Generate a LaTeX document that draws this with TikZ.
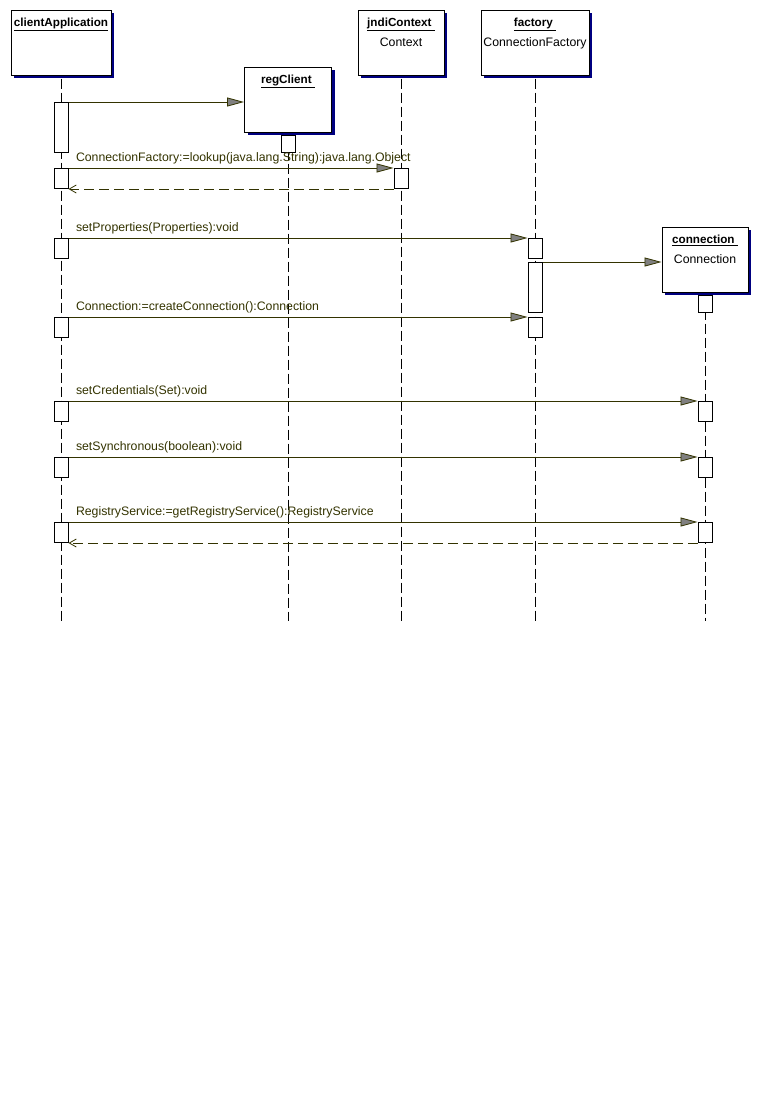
\documentclass[tikz,border=0pt]{standalone}
\usepackage{fontspec}
\setmainfont{Liberation Sans}
\usepackage{tikz}
\usetikzlibrary{positioning, arrows.meta, calc, shadows}
\usepackage{xcolor}
\definecolor{umlolive}{HTML}{333300}
\definecolor{umlnavy}{HTML}{000080}
\definecolor{umlgray}{HTML}{808080}

\begin{document}
\begin{tikzpicture}[x=1pt, y=-1pt, line width=1pt, font=\fontsize{12.3}{14}\selectfont,
    obj/.style={draw=black, fill=white, minimum height=65pt, inner sep=0pt,
      drop shadow={shadow xshift=3pt, shadow yshift=-3pt, fill=umlnavy, opacity=1}},
    act/.style={draw=black, fill=white, minimum width=14pt, inner sep=0pt, anchor=north},
    objname/.style={anchor=base, inner sep=0pt, font=\fontsize{11.7}{13}\selectfont\bfseries},
    clsname/.style={anchor=base, inner sep=0pt},
    life/.style={draw=black, dash pattern=on 10pt off 4pt},
    call/.style={draw=umlolive, -{Triangle[length=17pt, width=9pt, fill=umlgray, line width=0.8pt]}},
    reply/.style={draw=umlolive, dash pattern=on 10pt off 5pt, -{Straight Barb[length=7pt, width=8pt, line width=0.8pt]}},
    msg/.style={text=umlolive, anchor=base west, inner sep=0pt}]
  \useasboundingbox (0,0) rectangle (760,1103);

  % objects
  \node[obj, minimum width=100pt] (clientApp) at (61,42.5) {};
  \node[objname] (clientAppName) at ([yshift=-17pt]clientApp.north) {\underline{clientApplication}};
  \node[obj, minimum width=87pt] (regClient) at (288,99.5) {};
  \node[objname] (regClientName) at ([yshift=-17pt]regClient.north) {\underline{regClient }};
  \node[obj, minimum width=86pt] (jndiContext) at (401,42.5) {};
  \node[objname] (jndiContextName) at ([yshift=-17pt]jndiContext.north) {\underline{jndiContext }};
  \node[clsname] (jndiContextCls) at ([yshift=-36.5pt]jndiContext.north) {Context};
  \node[obj, minimum width=108pt] (factory) at (535,42.5) {};
  \node[objname] (factoryName) at ([yshift=-17pt]factory.north) {\underline{factory }};
  \node[clsname] (factoryCls) at ([yshift=-36.5pt]factory.north) {ConnectionFactory};
  \node[obj, minimum width=86pt] (connection) at (705,259.5) {};
  \node[objname] (connectionName) at ([yshift=-17pt]connection.north) {\underline{connection }};
  \node[clsname] (connectionCls) at ([yshift=-36.5pt]connection.north) {Connection};

  % lifelines
  \coordinate (bottom) at (0,621);
  \foreach \o in {clientApp, regClient, jndiContext, factory, connection}
    \draw[life] ([yshift=-3pt]\o.south) -- (\o.south |- bottom);

  % activations
  \node[act, minimum height=50pt] (ca1) at (61,102) {};
  \node[act, minimum height=20pt] (ca2) at (61,168) {};
  \node[act, minimum height=20pt] (ca3) at (61,238) {};
  \node[act, minimum height=20pt] (ca4) at (61,317) {};
  \node[act, minimum height=20pt] (ca5) at (61,401) {};
  \node[act, minimum height=20pt] (ca6) at (61,457) {};
  \node[act, minimum height=20pt] (ca7) at (61,522) {};
  \node[act, minimum height=17pt] (rc1) at (288,135) {};
  \node[act, minimum height=20pt] (jc1) at (401,168) {};
  \node[act, minimum height=20pt] (fa1) at (535,238) {};
  \node[act, minimum height=50pt] (fa2) at (535,262) {};
  \node[act, minimum height=20pt] (fa3) at (535,317) {};
  \node[act, minimum height=17pt] (cn1) at (705,295) {};
  \node[act, minimum height=20pt] (cn2) at (705,401) {};
  \node[act, minimum height=20pt] (cn3) at (705,457) {};
  \node[act, minimum height=20pt] (cn4) at (705,522) {};

  % messages
  \draw[call] (ca1.north east) -- (ca1.north east -| regClient.west);

  \draw[call] (ca2.north east) -- (jc1.north west);
  \node[msg] (lookupMsg) at ([xshift=7pt, yshift=6.5pt]ca2.north east)
    {ConnectionFactory:=lookup(java.lang.String):java.lang.Object};
  \draw[reply] (jc1.south west) -- (ca2.south east);

  \draw[call] (ca3.north east) -- (fa1.north west);
  \node[msg] (propsMsg) at ([xshift=7pt, yshift=6.5pt]ca3.north east) {setProperties(Properties):void};

  \draw[call] (fa2.north east) -- (fa2.north east -| connection.west);

  \draw[call] (ca4.north east) -- (fa3.north west);
  \node[msg] (createMsg) at ([xshift=7pt, yshift=6.5pt]ca4.north east) {Connection:=createConnection():Connection};

  \draw[call] (ca5.north east) -- (cn2.north west);
  \node[msg] (credMsg) at ([xshift=7pt, yshift=6.5pt]ca5.north east) {setCredentials(Set):void};

  \draw[call] (ca6.north east) -- (cn3.north west);
  \node[msg] (syncMsg) at ([xshift=7pt, yshift=6.5pt]ca6.north east) {setSynchronous(boolean):void};

  \draw[call] (ca7.north east) -- (cn4.north west);
  \node[msg] (registryMsg) at ([xshift=7pt, yshift=6.5pt]ca7.north east)
    {RegistryService:=getRegistryService():RegistryService};
  \draw[reply] (cn4.south west) -- (ca7.south east);
\end{tikzpicture}
\end{document}
